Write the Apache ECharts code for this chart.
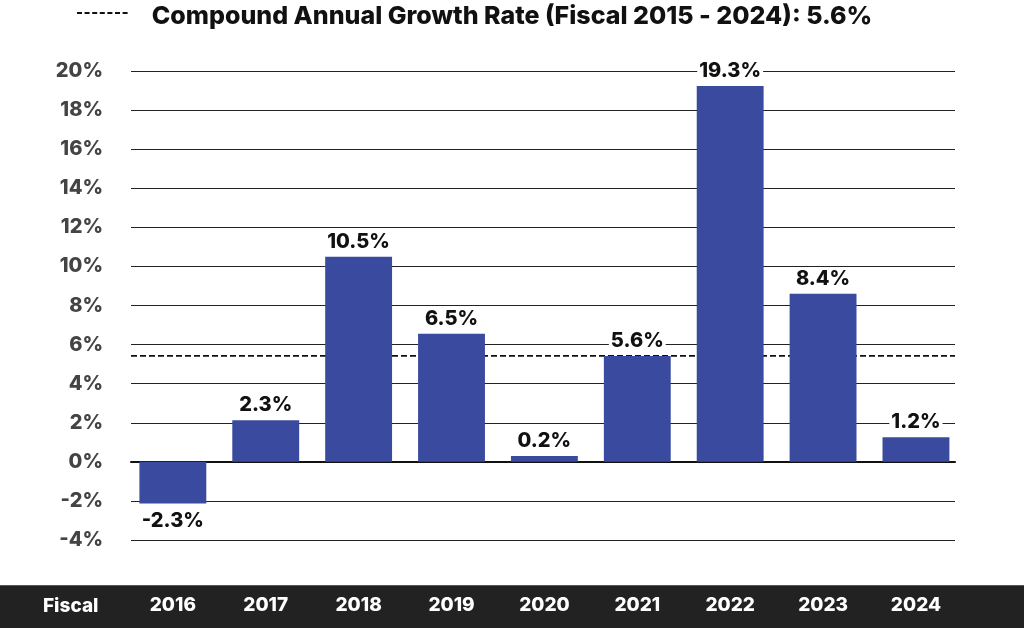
<!DOCTYPE html>
<html>
<head>
<meta charset="utf-8">
<script src="https://cdn.jsdelivr.net/npm/echarts@6/dist/echarts.min.js"></script>
<style>html,body{margin:0;padding:0;background:#fff}#c{width:1024px;height:628px}</style>
</head>
<body>
<div id="c"></div>
<script>
const categories = ['2016','2017','2018','2019','2020','2021','2022','2023','2024'];
const barValues = [-2.13, 2.13, 10.49, 6.55, 0.3, 5.42, 19.23, 8.6, 1.26];
const barLabels = ['-2.3%','2.3%','10.5%','6.5%','0.2%','5.6%','19.3%','8.4%','1.2%'];
const cagrValue = 5.42;
const titleText = 'Compound Annual Growth Rate (Fiscal 2015 - 2024): 5.6%';
const yMin = -4, yMax = 20, yStep = 2;

const FONT = 'Inter';
const chart = echarts.init(document.getElementById('c'));
const barData = barValues.map(v => v < 0 ? {value: v, label: {position: 'bottom', distance: 8}} : v);
chart.setOption({
  backgroundColor: '#fff',
  animation: false,
  title: {
    text: titleText, left: 'center', top: -1,
    textStyle: {fontFamily: FONT, fontWeight: 800, fontSize: 25, color: '#111'}
  },
  graphic: [
    {type: 'line', shape: {x1: 77, y1: 13, x2: 130, y2: 13},
     style: {stroke: '#111', lineWidth: 2, lineDash: [5, 2.6]}},
    {type: 'rect', shape: {x: 0, y: 585, width: 1024, height: 43},
     style: {fill: '#222'}, z: -1},
    {type: 'line', shape: {x1: 0, y1: 585.5, x2: 1024, y2: 585.5},
     style: {stroke: '#555', lineWidth: 1}, z: -1},
    {type: 'text', x: 43, y: 606,
     style: {text: 'Fiscal', fill: '#fff', font: '800 19px ' + FONT, verticalAlign: 'middle'}}
  ],
  grid: [
    {left: 126.4, right: 61.6, top: 71, bottom: 88},
    {left: 131, right: 69, top: 71, bottom: 88}
  ],
  xAxis: [
    {type: 'category', gridIndex: 0, data: categories,
     axisLine: {show: false, onZero: false}, axisTick: {show: false},
     axisLabel: {color: '#fff', fontFamily: FONT, fontWeight: 800, fontSize: 19, margin: 56}},
    {type: 'value', gridIndex: 1, min: 0, max: 1, show: true,
     axisLine: {show: true, onZero: true, lineStyle: {color: '#111', width: 2}},
     axisTick: {show: false}, axisLabel: {show: false}, splitLine: {show: false}}
  ],
  yAxis: [
    {type: 'value', gridIndex: 0, min: yMin, max: yMax, interval: yStep, show: false, splitLine: {show: false}},
    {type: 'value', gridIndex: 1, min: yMin, max: yMax, interval: yStep,
     axisLine: {show: false}, axisTick: {show: false},
     axisLabel: {formatter: '{value}%', color: '#444', fontFamily: FONT, fontWeight: 800, fontSize: 20, margin: 28},
     splitLine: {show: true, lineStyle: {color: '#222', width: 1}}}
  ],
  series: [
    {type: 'line', xAxisIndex: 1, yAxisIndex: 1, data: [[0, cagrValue], [1, cagrValue]],
     symbol: 'none', z: 1, silent: true,
     lineStyle: {color: '#111', width: 1.6, type: [6, 3]}},
    {type: 'bar', xAxisIndex: 0, yAxisIndex: 0, data: barData, barWidth: '72%', z: 3,
     itemStyle: {color: '#3a4a9f'},
     label: {
       show: true,
       position: 'top',
       distance: 5,
       formatter: p => barLabels[p.dataIndex],
       color: '#111', fontFamily: FONT, fontWeight: 800, fontSize: 20,
       backgroundColor: '#fff', padding: [0, 2]
     }
    }
  ]
});
</script>
</body>
</html>
